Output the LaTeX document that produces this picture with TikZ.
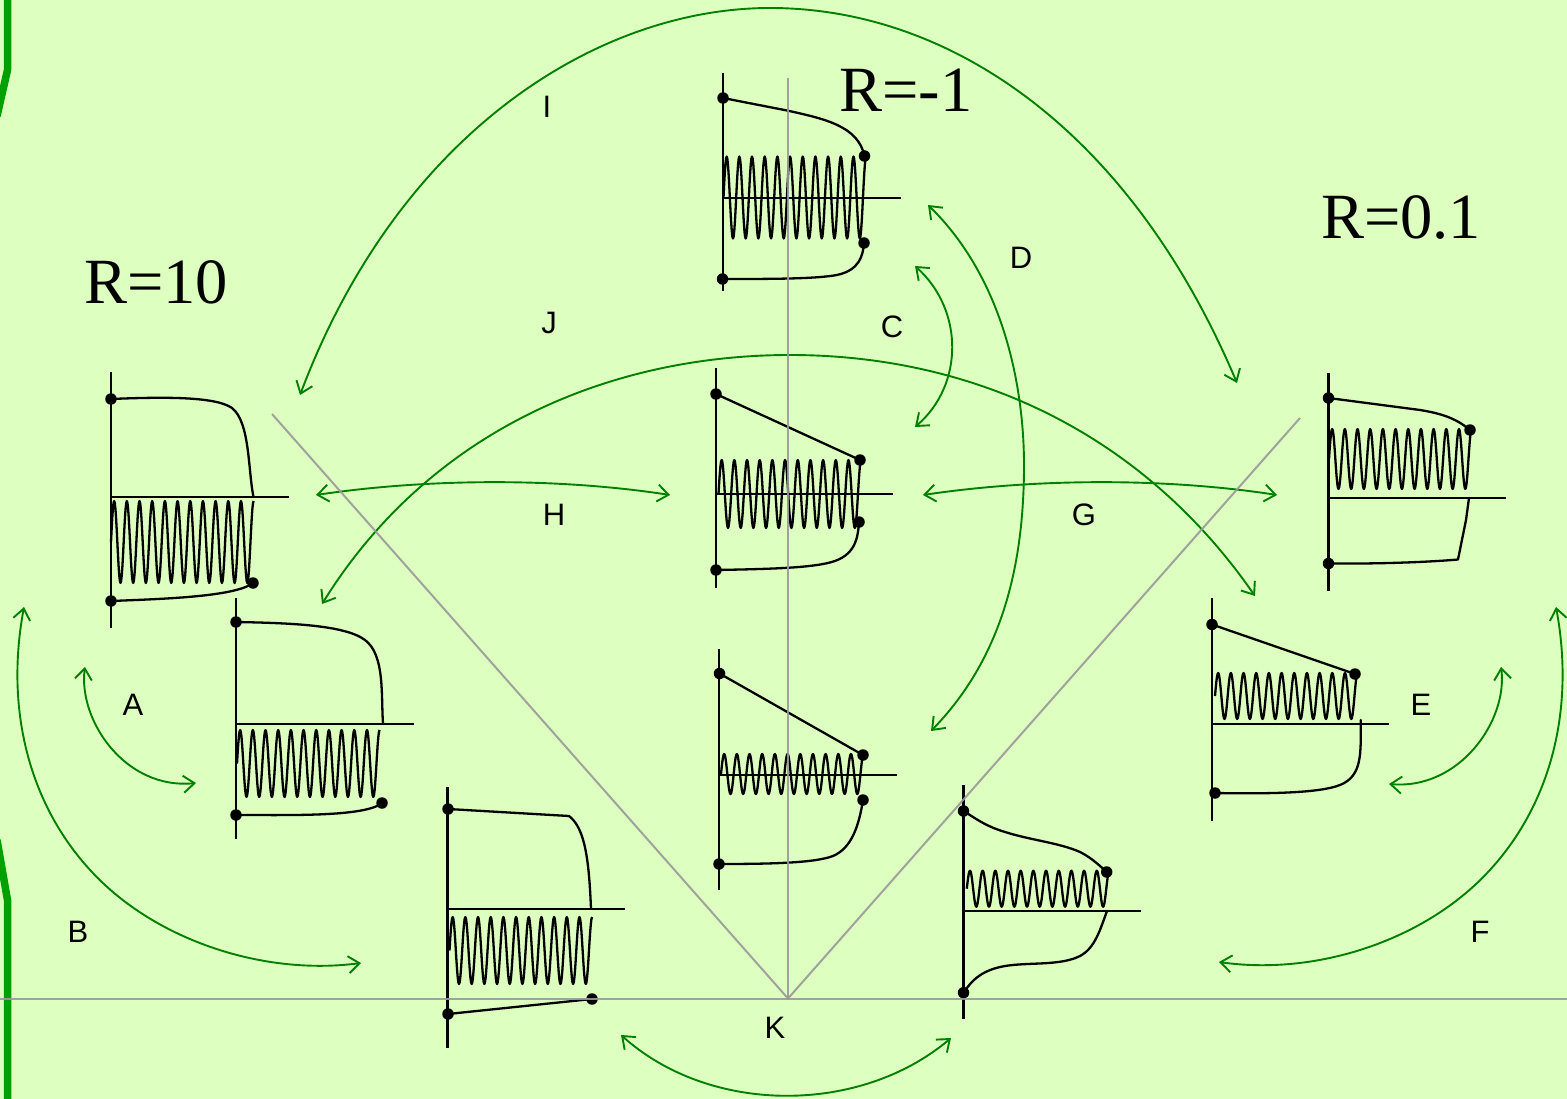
\documentclass[tikz,border=0pt]{standalone}
\usepackage{fontspec}
\setmainfont{Liberation Sans}
\newfontfamily\rfont{Liberation Serif}
\usetikzlibrary{arrows.meta}
\definecolor{bgc}{HTML}{DDFFBF}
\definecolor{strip}{HTML}{00A000}
\definecolor{arc}{HTML}{008000}
\definecolor{guide}{HTML}{999999}
\tikzset{
  axisline/.style={line width=2.3pt,black},
  curveline/.style={line width=2.3pt,black,line cap=round,line join=round},
  wavy/.style={line width=2.3pt,black,line join=round},
  dot/.style={circle,fill=black,inner sep=0pt,minimum size=11.5pt},
  swing/.style={line width=1.9pt,arc,{Straight Barb[length=11pt,width=17pt,line width=1.9pt]}-{Straight Barb[length=11pt,width=17pt,line width=1.9pt]}},
  guideline/.style={line width=2pt,guide,opacity=0.9},
  tag/.style={inner sep=0pt,font=\fontsize{31}{36}\selectfont},
  rtag/.style={inner sep=0pt,font=\rfont\fontsize{64.5}{72}\selectfont},
}
\newcommand{\wv}[3]{\draw[wavy] plot[domain=0:11.25,samples=226] ({#1+12.68*\x},{#2-#3*sin(360*\x)});}
\newcommand{\axes}[5]{\draw[axisline] (#1,#2) -- (#1,#3); \draw[axisline] (#1,#4) -- (#5,#4);}
\begin{document}
\begin{tikzpicture}[x=1pt,y=-1pt]
\useasboundingbox (0,0) rectangle (1567,1099);
\fill[bgc] (0,0) rectangle (1567,1099);
% left strip
\draw[strip,line width=7.5pt] (7.5,-5) -- (7.5,70) -- (-3,116);
\draw[strip,line width=7.5pt] (-3,840) -- (7.5,900) -- (7.5,1104);

% panel 1
\axes{111}{372}{628}{497}{289}
\wv{111}{542}{41}
\node[dot] (pa1) at (111,399) {};
\node[dot] (pa2) at (111,601) {};
\node[dot] (pa3) at (253,583) {};
\coordinate (pa4) at (253.5,497);
\draw[curveline] (pa1.center) .. controls (160,397) and (215,396) .. (232,408) .. controls (250,422) and (248,470) .. (pa4);
\draw[curveline] (pa2.center) .. controls (160,599) and (235,597) .. (pa3.center);

% panel 2
\axes{236}{598}{839}{724}{414}
\wv{237}{763.5}{33.5}
\node[dot] (pb1) at (236,622) {};
\node[dot] (pb2) at (236,815) {};
\node[dot] (pb3) at (382,803) {};
\coordinate (pb4) at (383,724);
\draw[curveline] (pb1.center) .. controls (290,623) and (345,625) .. (365,640) .. controls (385,655) and (381,695) .. (pb4);
\draw[curveline] (pb2.center) .. controls (290,815) and (365,817) .. (pb3.center);

% panel 3
\axes{447.5}{787}{1048}{909}{625}
\wv{449.5}{950.5}{33.5}
\node[dot] (pc1) at (448,809) {};
\node[dot] (pc2) at (448,1014) {};
\node[dot] (pc3) at (592,999) {};
\coordinate (pc4) at (591,909);
\draw[curveline] (pc1.center) -- (569,816) .. controls (585,828) and (589,860) .. (pc4);
\draw[curveline] (pc2.center) -- (pc3.center);

% panel 4
\axes{723}{73}{291}{197.7}{901}
\wv{723.5}{197.5}{41}
\node[dot] (pd1) at (723,98) {};
\node[dot] (pd2) at (864.5,156) {};
\node[dot] (pd3) at (864,243) {};
\node[dot] (pd4) at (722.5,279) {};
\draw[curveline] (pd1.center) -- (788,110.7) .. controls (825,119) and (858,126) .. (pd2.center);
\draw[curveline] (pd4.center) .. controls (770,279) and (815,279) .. (837,275) .. controls (860,270) and (863,255) .. (pd3.center);

% panel 5
\axes{716}{368}{588}{494}{893}
\wv{718.5}{494}{34}
\node[dot] (pe1) at (716,394) {};
\node[dot] (pe2) at (860,460) {};
\node[dot] (pe3) at (859,522) {};
\node[dot] (pe4) at (716,570) {};
\draw[curveline] (pe1.center) -- (pe2.center);
\draw[curveline] (pe4.center) .. controls (770,569) and (815,568) .. (835,561) .. controls (857,553) and (858,535) .. (pe3.center);

% panel 6
\axes{719.3}{649}{890}{775}{897}
\wv{721}{774}{20}
\node[dot] (pf1) at (719.5,673.5) {};
\node[dot] (pf2) at (863,755) {};
\node[dot] (pf3) at (863,800) {};
\node[dot] (pf4) at (719,864) {};
\draw[curveline] (pf1.center) -- (pf2.center);
\draw[curveline] (pf4.center) .. controls (770,864) and (815,863) .. (833,856) .. controls (852,848) and (859,825) .. (pf3.center);

% panel 7
\axes{1328.5}{373}{591}{497.7}{1506}
\wv{1329}{459}{30}
\node[dot] (pg1) at (1328.5,398) {};
\node[dot] (pg2) at (1470,430) {};
\node[dot] (pg3) at (1328.5,563.5) {};
\coordinate (pg4) at (1469,498);
\draw[curveline] (pg1.center) -- (1420,410) .. controls (1445,414) and (1458,420) .. (pg2.center);
\draw[curveline] (pg3.center) .. controls (1380,564) and (1430,562) .. (1458,559.5) -- (1466,520) -- (pg4);

% panel 8
\axes{1211.7}{598}{821}{724}{1389}
\wv{1215}{696}{23}
\node[dot] (ph1) at (1212,624.5) {};
\node[dot] (ph2) at (1355,674) {};
\node[dot] (ph3) at (1215,793) {};
\coordinate (ph4) at (1360.7,720);
\draw[curveline] (ph1.center) -- (ph2.center);
\draw[curveline] (ph3.center) .. controls (1270,794) and (1320,793) .. (1340,785) .. controls (1362,776) and (1361,755) .. (ph4);

% panel 9
\axes{963.5}{785}{1019}{911}{1141}
\wv{966.8}{888.7}{18}
\node[dot] (pi1) at (963.5,811) {};
\node[dot] (pi2) at (1106.7,872) {};
\node[dot] (pi3) at (963.5,992.7) {};
\coordinate (pi4) at (1107,911);
\draw[curveline] (pi1.center) .. controls (975,818) and (985,826) .. (1005,832) .. controls (1030,840) and (1060,843) .. (1080,852) .. controls (1090,857) and (1098,864) .. (pi2.center);
\draw[curveline] (pi3.center) .. controls (972,980) and (982,970) .. (1005,966) .. controls (1030,962) and (1060,966) .. (1080,956) .. controls (1095,948) and (1100,930) .. (pi4);

% swing arrows
\coordinate (ia) at (300,395); \coordinate (ib) at (1237,383);
\draw[swing] (ia) .. controls (400,130) and (600,8) .. (770,8) .. controls (950,8) and (1130,130) .. (ib);
\coordinate (ja) at (322,604); \coordinate (jb) at (1255,596);
\draw[swing] (ja) .. controls (430,430) and (610,355) .. (790,355) .. controls (970,355) and (1140,430) .. (jb);
\coordinate (ha) at (316,495); \coordinate (hb) at (670,495);
\draw[swing] (ha) .. controls (430,478) and (560,478) .. (hb);
\coordinate (ga) at (923,495); \coordinate (gb) at (1277,495);
\draw[swing] (ga) .. controls (1037,478) and (1167,478) .. (gb);
\coordinate (ca) at (915,266); \coordinate (cb) at (915,427);
\draw[swing] (ca) .. controls (964,310) and (964,385) .. (cb);
\coordinate (da) at (928,205); \coordinate (db) at (931,731);
\draw[swing] (da) .. controls (1005,280) and (1024,390) .. (1024,465) .. controls (1024,570) and (1000,660) .. (db);
\coordinate (aa) at (85,667); \coordinate (ab) at (196,783);
\draw[swing] (aa) .. controls (78,720) and (125,790) .. (ab);
\coordinate (ea) at (1501,667); \coordinate (eb) at (1389,784);
\draw[swing] (ea) .. controls (1508,720) and (1460,790) .. (eb);
\coordinate (ba) at (24,607); \coordinate (bb) at (361,963);
\draw[swing] (ba) .. controls (3,720) and (35,820) .. (105,885) .. controls (170,945) and (270,975) .. (bb);
\coordinate (fa) at (1556,607); \coordinate (fb) at (1219,962);
\draw[swing] (fa) .. controls (1577,720) and (1545,820) .. (1475,885) .. controls (1410,945) and (1310,975) .. (fb);
\coordinate (ka) at (621,1035); \coordinate (kb) at (951,1038);
\draw[swing] (ka) .. controls (710,1115) and (860,1115) .. (kb);

% guide lines
\coordinate (apex) at (788,998.5);
\coordinate (gl) at (272,414);
\coordinate (gr) at (1300,418);
\coordinate (gt) at (788,78);
\coordinate (hl) at (0,998.5);
\coordinate (hr) at (1567,998.5);
\draw[guideline] (gl) -- (apex) -- (gr);
\draw[guideline] (gt) -- (apex);
\draw[guideline] (hl) -- (hr);

% labels
\node[tag] (la) at (133,704.5) {A};
\node[tag] (lb) at (78,931.5) {B};
\node[tag] (lc) at (892,327) {C};
\node[tag] (ld) at (1021,257.5) {D};
\node[tag] (le) at (1421,704.5) {E};
\node[tag] (lf) at (1480,931.5) {F};
\node[tag] (lg) at (1084,515) {G};
\node[tag] (lh) at (554,515) {H};
\node[tag] (li) at (547,107) {I};
\node[tag] (lj) at (549,323) {J};
\node[tag] (lk) at (775,1028) {K};
\node[rtag] (r1) at (156,282) {R=10};
\node[rtag] (r2) at (906,90) {R=-1};
\node[rtag] (r3) at (1401,218) {R=0.1};
\end{tikzpicture}
\end{document}
